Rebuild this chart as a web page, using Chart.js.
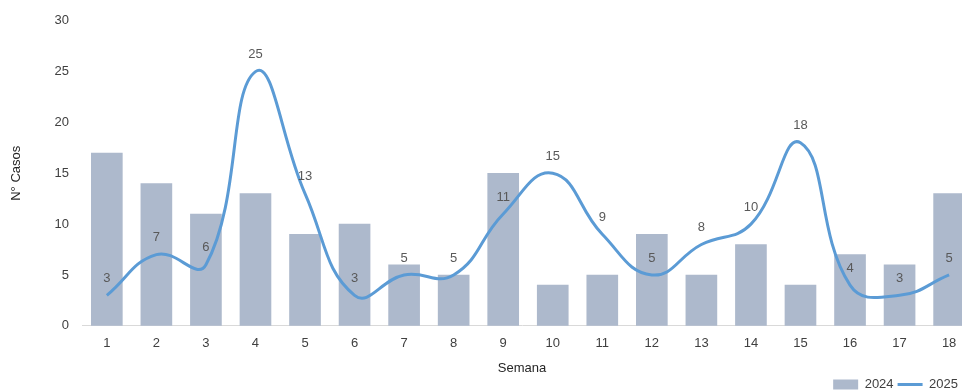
<!DOCTYPE html>
<html>
<head>
<meta charset="utf-8">
<script src="https://cdn.jsdelivr.net/npm/chart.js@4/dist/chart.umd.min.js"></script>
<style>
html,body{margin:0;padding:0;background:#fff;overflow:hidden;}
#wrap{width:962px;height:392px;position:relative;}
</style>
</head>
<body>
<div id="wrap"><canvas id="c" width="962" height="392"></canvas></div>
<script>
const weeks = [1,2,3,4,5,6,7,8,9,10,11,12,13,14,15,16,17,18];
const cases2024 = [17,14,11,13,9,10,6,5,15,4,5,9,5,8,4,7,6,13];
const cases2025 = [3,7,6,25,13,3,5,5,11,15,9,5,8,10,18,4,3,5];
const yTicks = [0,5,10,15,20,25,30];
const seriesNames = ['2024','2025'];

const FONT = 'Liberation Sans, Arial, sans-serif';
const barColor = '#ADB9CC';
const lineColor = '#5B9BD5';

const valueLabels = {
  id: 'valueLabels',
  afterDatasetsDraw(chart) {
    const meta = chart.getDatasetMeta(1);
    const ctx = chart.ctx;
    ctx.save();
    ctx.font = '13px ' + FONT;
    ctx.fillStyle = '#595959';
    ctx.textAlign = 'center';
    ctx.textBaseline = 'middle';
    meta.data.forEach((p, i) => {
      ctx.fillText(String(cases2025[i]), p.x, p.y - 17);
    });
    ctx.restore();
  }
};

new Chart(document.getElementById('c'), {
  data: {
    datasets: [
      {
        type: 'bar',
        label: seriesNames[0],
        data: weeks.map((w, i) => ({x: w, y: cases2024[i]})),
        backgroundColor: barColor,
        barThickness: 31,
        order: 2
      },
      {
        type: 'line',
        label: seriesNames[1],
        data: weeks.map((w, i) => ({x: w, y: cases2025[i]})),
        borderColor: lineColor,
        backgroundColor: lineColor,
        borderWidth: 3,
        pointRadius: 0,
        tension: 0.45,
        order: 1
      }
    ]
  },
  options: {
    responsive: false,
    animation: false,
    layout: {padding: {left: 9, right: 0, top: 12, bottom: -9}},
    scales: {
      x: {
        type: 'linear',
        offset: false,
        min: 0.5,
        max: 18.26,
        afterBuildTicks: (s) => { s.ticks = weeks.map(v => ({value: v})); },
        afterFit: (s) => { s.paddingRight = 0; },
        grid: {display: false, drawTicks: false, offset: false},
        border: {display: true, color: '#D9D9D9', width: 1},
        ticks: {font: {family: FONT, size: 13}, color: '#404040', padding: 10, maxRotation: 0, autoSkip: false},
        title: {display: true, text: 'Semana', font: {family: FONT, size: 13}, color: '#262626', padding: {top: -1, bottom: -2}}
      },
      y: {
        min: 0,
        max: 30,
        afterBuildTicks: (s) => { s.ticks = yTicks.map(v => ({value: v})); },
        grid: {display: false, drawTicks: false},
        border: {display: false},
        ticks: {font: {family: FONT, size: 13}, color: '#404040', padding: 13},
        title: {display: true, text: 'N° Casos', font: {family: FONT, size: 13}, color: '#262626', padding: {top: 0, bottom: 17}}
      }
    },
    plugins: {
      tooltip: {enabled: false},
      legend: {
        position: 'bottom',
        align: 'end',
        labels: {
          font: {family: FONT, size: 13},
          color: '#404040',
          usePointStyle: true,
          pointStyleWidth: 25,
          boxHeight: 10,
          padding: 4,
          generateLabels: (chart) => chart.data.datasets.map((d, i) => ({
            text: d.label,
            fillStyle: i === 0 ? barColor : lineColor,
            strokeStyle: i === 0 ? barColor : lineColor,
            lineWidth: i === 0 ? 0 : 3,
            pointStyle: i === 0 ? 'rect' : 'line',
            fontColor: '#404040',
            datasetIndex: i
          }))
        }
      }
    }
  },
  plugins: [valueLabels]
});
</script>
</body>
</html>
